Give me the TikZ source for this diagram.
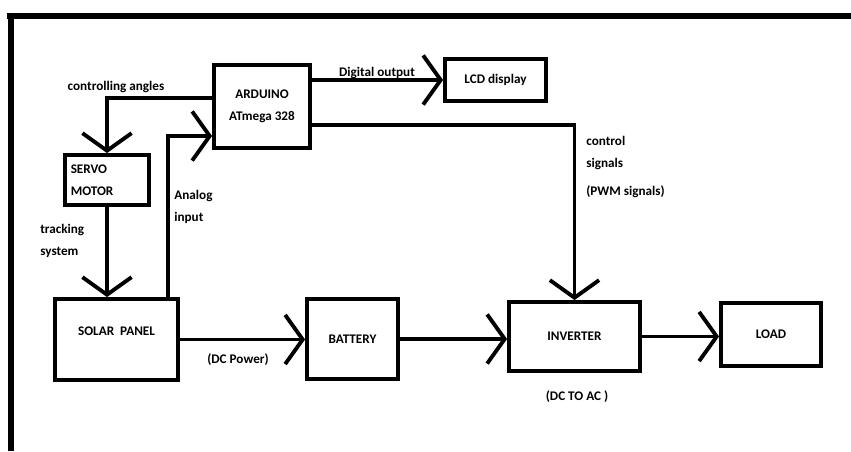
\documentclass[tikz,border=0pt]{standalone}
\usepackage{fontspec}
\setmainfont{Carlito}
\usetikzlibrary{arrows.meta,positioning}

\tikzset{
  block/.style={draw,line width=2.2pt,inner sep=3pt,align=center,font=\bfseries\fontsize{7.5}{12.5}\selectfont},
  conn/.style={line width=2.2pt,-{Straight Barb[length=10pt,width=28pt]}},
  lbl/.style={font=\bfseries\fontsize{7.5}{12.5}\selectfont,inner sep=0pt,align=left},
  frame/.style={line width=3.6pt}
}

\begin{document}
\begin{tikzpicture}[x=0.02cm,y=-0.02cm]
  \useasboundingbox (0,0) rectangle (851,451);
  % frame
  \draw[frame] (7,16) -- (851,16);
  \draw[frame] (11,13) -- (11,451);
  % blocks
  \node[block,minimum width=1.92cm,minimum height=1.66cm] (ard) at (262,106.5) {ARDUINO\\ATmega 328};
  \node[block,minimum width=2.02cm,minimum height=0.84cm] (lcd) at (495.5,80) {LCD display};
  \node[block,minimum width=1.68cm,minimum height=1cm,text width=1.45cm,align=left] (servo) at (107,180) {SERVO\\MOTOR};
  \node[block,minimum width=2.46cm,minimum height=1.62cm,text depth=9pt] (solar) at (116.5,339.5) {SOLAR\ \ PANEL};
  \node[block,minimum width=1.82cm,minimum height=1.6cm] (bat) at (352.5,339) {BATTERY};
  \node[block,minimum width=2.62cm,minimum height=1.38cm] (inv) at (574.5,336.5) {INVERTER};
  \node[block,minimum width=2cm,minimum height=1.26cm] (load) at (771,334.5) {LOAD};
  % connectors
  \draw[conn] ([yshift=0.17cm]ard.west) -| (servo.north);
  \draw[conn] (servo.south) -- (servo.south |- solar.north);
  \draw[conn] ([xshift=-0.24cm]solar.north east) |- ([yshift=-0.59cm]ard.west);
  \draw[conn] (ard.east |- lcd.west) -- (lcd.west);
  \draw[conn] ([yshift=-0.37cm]ard.east) -| (inv.north);
  \draw[conn] (solar.east) -- (solar.east -| bat.west);
  \draw[conn] (bat.east) -- (bat.east -| inv.west);
  \draw[conn] (inv.east) -- (inv.east -| load.west);
  % labels
  \node[lbl] (lca) at (116,87) {controlling angles};
  \node[lbl] (ldo) at (377,73) {Digital output};
  \node[lbl,anchor=west] (lts) at (40,241) {tracking\\system};
  \node[lbl,anchor=west] (lai) at (174,207) {Analog\\input};
  \node[lbl,anchor=west] (lcs) at (586,167) {control\\signals\\[3pt](PWM signals)};
  \node[lbl] (ldc) at (238,360) {(DC Power)};
  \node[lbl] (lac) at (577,397) {(DC TO AC )};
\end{tikzpicture}
\end{document}
